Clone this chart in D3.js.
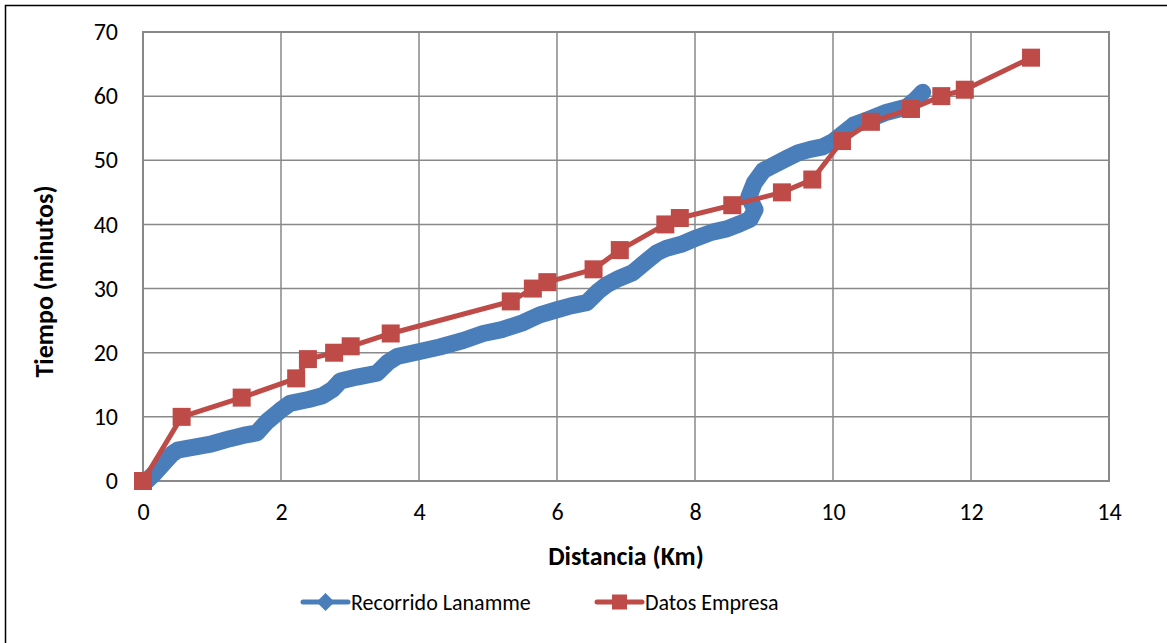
<!DOCTYPE html>
<html>
<head>
<meta charset="utf-8">
<script src="https://cdn.jsdelivr.net/npm/d3@7"></script>
<style>
  html, body { margin: 0; padding: 0; background: #fff; }
  svg { display: block; font-family: Carlito, Lato, "Liberation Sans", sans-serif; }
</style>
</head>
<body>
<svg id="chart" width="1167" height="643"></svg>
<script>
// Recorrido Lanamme: measured distance (km) and time (minutes)
const lanammeKm = [0.05, 0.15, 0.3, 0.42, 0.5, 0.8, 1.0, 1.26, 1.45, 1.65, 1.8, 1.99, 2.13, 2.4, 2.6, 2.75, 2.86, 3.1, 3.39, 3.55, 3.68, 4.01, 4.3, 4.64, 4.93, 5.2, 5.51, 5.75, 6.0, 6.2, 6.43, 6.6, 6.72, 6.9, 7.1, 7.3, 7.45, 7.59, 7.8, 8.02, 8.25, 8.46, 8.65, 8.8, 8.87, 8.78, 8.86, 8.99, 9.15, 9.33, 9.5, 9.67, 9.85, 10.0, 10.15, 10.3, 10.5, 10.78, 11.07, 11.2, 11.3];
const lanammeMin = [0, 1, 2.8, 4.2, 4.8, 5.4, 5.8, 6.6, 7.1, 7.5, 9.3, 11, 12.1, 12.7, 13.3, 14.3, 15.6, 16.2, 16.8, 18.5, 19.4, 20.2, 20.9, 21.9, 23, 23.6, 24.7, 25.9, 26.7, 27.3, 27.8, 29.6, 30.6, 31.6, 32.5, 34.3, 35.6, 36.3, 36.9, 37.9, 38.8, 39.3, 40.1, 40.8, 42.3, 44.3, 46.5, 48.4, 49.3, 50.3, 51.2, 51.7, 52.1, 52.9, 54.2, 55.5, 56.3, 57.5, 58.3, 59.5, 60.6];

// Datos Empresa: distance (km) and time (minutes) per stop
const empresaKm = [0, 0.56, 1.43, 2.22, 2.39, 2.77, 3.01, 3.59, 5.33, 5.65, 5.86, 6.53, 6.91, 7.57, 7.78, 8.54, 9.26, 9.70, 10.13, 10.55, 11.13, 11.57, 11.91, 12.87];
const empresaMin = [0, 10, 13, 16, 19, 20, 21, 23, 28, 30, 31, 33, 36, 40, 41, 43, 45, 47, 53, 56, 58, 60, 61, 66];

const xTicks = [0, 2, 4, 6, 8, 10, 12, 14];
const yTicks = [0, 10, 20, 30, 40, 50, 60, 70];
const seriesNames = ["Recorrido Lanamme", "Datos Empresa"];
const seriesColors = ["#4a7ebb", "#be4b48"];

const svg = d3.select("#chart");

// outer chart frame
svg.append("rect")
  .attr("x", 5.5).attr("y", 5.5)
  .attr("width", 1180).attr("height", 660)
  .attr("fill", "none").attr("stroke", "#000").attr("stroke-width", 1.5);

const plot = { left: 143, right: 1109, top: 32, bottom: 481 };
const x = d3.scaleLinear().domain([0, 14]).range([plot.left, plot.right]);
const y = d3.scaleLinear().domain([0, 70]).range([plot.bottom, plot.top]);

const gridColor = "#898989";

// gridlines
svg.append("g").selectAll("line.v").data(xTicks).join("line")
  .attr("x1", d => x(d)).attr("x2", d => x(d))
  .attr("y1", plot.top).attr("y2", plot.bottom)
  .attr("stroke", gridColor).attr("stroke-width", 1.5);
svg.append("g").selectAll("line.h").data(yTicks).join("line")
  .attr("x1", plot.left).attr("x2", plot.right)
  .attr("y1", d => y(d)).attr("y2", d => y(d))
  .attr("stroke", gridColor).attr("stroke-width", 1.5);

// plot border
svg.append("rect")
  .attr("x", plot.left).attr("y", plot.top)
  .attr("width", plot.right - plot.left).attr("height", plot.bottom - plot.top)
  .attr("fill", "none").attr("stroke", gridColor).attr("stroke-width", 2);

// axes (labels only, the grid carries the lines)
const xAxis = d3.axisBottom(x).tickValues(xTicks).tickSize(0).tickPadding(22).tickFormat(d3.format("d"));
const yAxis = d3.axisLeft(y).tickValues(yTicks).tickSize(0).tickPadding(25).tickFormat(d3.format("d"));

const gx = svg.append("g").attr("transform", `translate(0,${plot.bottom})`).call(xAxis);
const gy = svg.append("g").attr("transform", `translate(${plot.left},0)`).call(yAxis);
[gx, gy].forEach(g => {
  g.select(".domain").remove();
  g.selectAll("text").attr("font-size", 24).attr("fill", "#000")
    .attr("font-family", "Carlito, Lato, sans-serif");
});

// axis titles
svg.append("text")
  .attr("x", (plot.left + plot.right) / 2).attr("y", 565)
  .attr("text-anchor", "middle").attr("font-size", 26).attr("font-weight", "bold")
  .text("Distancia (Km)");
svg.append("text")
  .attr("transform", `translate(53,${(plot.top + plot.bottom) / 2 + 25}) rotate(-90)`)
  .attr("text-anchor", "middle").attr("font-size", 26).attr("font-weight", "bold")
  .text("Tiempo (minutos)");

// Recorrido Lanamme: dense marker trace drawn as a heavy band
const lanamme = lanammeKm.map((d, i) => [d, lanammeMin[i]]);
const line = d3.line().x(d => x(d[0])).y(d => y(d[1]));
svg.append("path")
  .datum(lanamme)
  .attr("d", line)
  .attr("fill", "none")
  .attr("stroke", seriesColors[0])
  .attr("stroke-width", 17)
  .attr("stroke-linejoin", "round")
  .attr("stroke-linecap", "round");

// Datos Empresa: line with square markers
const empresa = empresaKm.map((d, i) => [d, empresaMin[i]]);
svg.append("path")
  .datum(empresa)
  .attr("d", line)
  .attr("fill", "none")
  .attr("stroke", seriesColors[1])
  .attr("stroke-width", 5)
  .attr("stroke-linejoin", "round");
const sq = 18;
svg.append("g").selectAll("rect").data(empresa).join("rect")
  .attr("x", d => x(d[0]) - sq / 2).attr("y", d => y(d[1]) - sq / 2)
  .attr("width", sq).attr("height", sq)
  .attr("fill", seriesColors[1]);

// legend
const legendY = 602;
const legendItems = [
  { name: seriesNames[0], color: seriesColors[0], x0: 303, shape: "diamond" },
  { name: seriesNames[1], color: seriesColors[1], x0: 597, shape: "square" }
];
const lg = svg.append("g");
legendItems.forEach(item => {
  const g = lg.append("g");
  g.append("line")
    .attr("x1", item.x0).attr("x2", item.x0 + 45)
    .attr("y1", legendY).attr("y2", legendY)
    .attr("stroke", item.color).attr("stroke-width", 5).attr("stroke-linecap", "round");
  const cx = item.x0 + 22.5;
  if (item.shape === "diamond") {
    g.append("path")
      .attr("d", `M${cx},${legendY - 9}L${cx + 9},${legendY}L${cx},${legendY + 9}L${cx - 9},${legendY}Z`)
      .attr("fill", item.color);
  } else {
    g.append("rect")
      .attr("x", cx - 7.5).attr("y", legendY - 7.5)
      .attr("width", 15).attr("height", 15)
      .attr("fill", item.color);
  }
  g.append("text")
    .attr("x", item.x0 + 48).attr("y", legendY + 8)
    .attr("font-size", 22).attr("fill", "#000")
    .text(item.name);
});
</script>
</body>
</html>
